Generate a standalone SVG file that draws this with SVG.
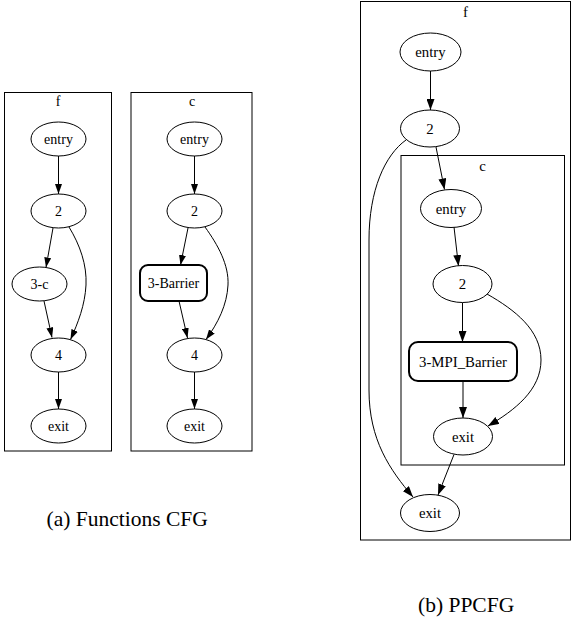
<svg xmlns="http://www.w3.org/2000/svg" width="572" height="625" viewBox="0 0 572 625">
<style>
.cl{fill:none;stroke:#000;stroke-width:1}
.nd{fill:#fff;stroke:#000;stroke-width:1}
.bx{fill:#fff;stroke:#000;stroke-width:2}
.e{fill:none;stroke:#000;stroke-width:1}
.ea{marker-end:url(#ah)}
.eb{marker-end:url(#ahb)}
text{font-family:'Liberation Serif','DejaVu Serif',serif;fill:#000;text-anchor:middle}
.s{font-size:14px}
.b{font-size:14.8px}
.cap{font-size:21.5px;text-anchor:start}
</style>
<defs>
<marker id="ah" viewBox="0 0 10 7" refX="10" refY="3.5" markerWidth="10" markerHeight="7" markerUnits="userSpaceOnUse" orient="auto"><path d="M0,0 L10,3.5 L0,7 z" fill="#000"/></marker>
<marker id="ahb" viewBox="0 0 11 8" refX="11" refY="4" markerWidth="11" markerHeight="8" markerUnits="userSpaceOnUse" orient="auto"><path d="M0,0 L11,4 L0,8 z" fill="#000"/></marker>
</defs>
<g font-family="Liberation Serif, DejaVu Serif, serif">
<!-- clusters -->
<g id="cluster_a_f"><rect class="cl" x="4.5" y="92.5" width="107" height="358.5"/><text class="s" x="58" y="106">f</text></g>
<g id="cluster_a_c"><rect class="cl" x="131" y="92.5" width="121" height="358.5"/><text class="s" x="192" y="106">c</text></g>
<g id="cluster_b_f"><rect class="cl" x="360.5" y="1.5" width="210" height="538.5"/><text class="b" x="465.5" y="17">f</text></g>
<g id="cluster_b_c"><rect class="cl" x="401" y="155.5" width="163.5" height="309.5"/><text class="b" x="482.5" y="171">c</text></g>

<!-- connectors -->
<g id="edges">
<path class="e ea" d="M58.5,156 L58.5,194"/>
<path class="e ea" d="M53,228 L46,267.5"/>
<path class="e ea" d="M44,301 L52,337.5"/>
<path class="e ea" d="M69,227 C80,245 87,265 86,285 C85,305 78,323 70.5,339.5"/>
<path class="e ea" d="M58.5,372 L58.5,409"/>

<path class="e ea" d="M194.5,156 L194.5,194"/>
<path class="e ea" d="M188,228 L180.5,265"/>
<path class="e ea" d="M179,301 L187.5,338"/>
<path class="e ea" d="M205,227 C218,245 229,265 228,285 C227,305 218,323 206,339.5"/>
<path class="e ea" d="M194.5,372 L194.5,409"/>

<path class="e eb" d="M430.5,71 L430.5,110"/>
<path class="e eb" d="M436,147 L444.5,189.5"/>
<path class="e eb" d="M454,227 L458.5,266"/>
<path class="e eb" d="M462.5,302.5 L462.5,342"/>
<path class="e eb" d="M487,294 C515,310 541,330 541,360 C541,390 515,410 488,426"/>
<path class="e eb" d="M463,381 L463,418"/>
<path class="e eb" d="M454,454.5 L438,495"/>
<path class="e eb" d="M406,140 C385,155 369,190 369,240 L369,390 C369,440 390,470 413,497"/>
</g>

<!-- nodes panel a -->
<g id="a_f_entry"><ellipse class="nd" cx="58.5" cy="139" rx="27.5" ry="17"/><text class="s" x="58.5" y="144">entry</text></g>
<g id="a_f_2"><ellipse class="nd" cx="58.5" cy="211" rx="27.5" ry="17"/><text class="s" x="58.5" y="216">2</text></g>
<g id="a_f_3c"><ellipse class="nd" cx="39.5" cy="284" rx="27.5" ry="17"/><text class="s" x="39.5" y="289">3-c</text></g>
<g id="a_f_4"><ellipse class="nd" cx="58.5" cy="355" rx="27.5" ry="17"/><text class="s" x="58.5" y="360">4</text></g>
<g id="a_f_exit"><ellipse class="nd" cx="58.5" cy="426" rx="27.5" ry="17"/><text class="s" x="58.5" y="431">exit</text></g>

<g id="a_c_entry"><ellipse class="nd" cx="194.5" cy="139" rx="27.5" ry="17"/><text class="s" x="194.5" y="144">entry</text></g>
<g id="a_c_2"><ellipse class="nd" cx="194.5" cy="211" rx="27.5" ry="17"/><text class="s" x="194.5" y="216">2</text></g>
<g id="a_c_3barrier"><rect class="bx" x="140" y="265" width="67" height="36" rx="8" ry="8"/><text class="s" x="173.5" y="288">3-Barrier</text></g>
<g id="a_c_4"><ellipse class="nd" cx="194.5" cy="355" rx="27.5" ry="17"/><text class="s" x="194.5" y="360">4</text></g>
<g id="a_c_exit"><ellipse class="nd" cx="194.5" cy="426" rx="27.5" ry="17"/><text class="s" x="194.5" y="431">exit</text></g>

<!-- nodes panel b -->
<g id="b_f_entry"><ellipse class="nd" cx="430.5" cy="52" rx="30.5" ry="19"/><text class="b" x="430.5" y="57.2">entry</text></g>
<g id="b_f_2"><ellipse class="nd" cx="430" cy="128.5" rx="29.5" ry="18.5"/><text class="b" x="430" y="133.7">2</text></g>
<g id="b_c_entry"><ellipse class="nd" cx="451" cy="208.5" rx="30.5" ry="19"/><text class="b" x="451" y="213.7">entry</text></g>
<g id="b_c_2"><ellipse class="nd" cx="462.5" cy="284" rx="29.5" ry="18.5"/><text class="b" x="462.5" y="289.2">2</text></g>
<g id="b_c_3mpi"><rect class="bx" x="409" y="342" width="108" height="39" rx="9" ry="9"/><text class="b" x="463" y="366.7">3-MPI_Barrier</text></g>
<g id="b_c_exit"><ellipse class="nd" cx="463" cy="436.5" rx="29.5" ry="18.5"/><text class="b" x="463" y="441.7">exit</text></g>
<g id="b_f_exit"><ellipse class="nd" cx="430" cy="513" rx="29.5" ry="18.5"/><text class="b" x="430" y="518.2">exit</text></g>

<!-- captions -->
<text class="cap" x="46.5" y="526">(a) Functions CFG</text>
<text class="cap" x="418" y="612">(b) PPCFG</text>
</g>
</svg>
